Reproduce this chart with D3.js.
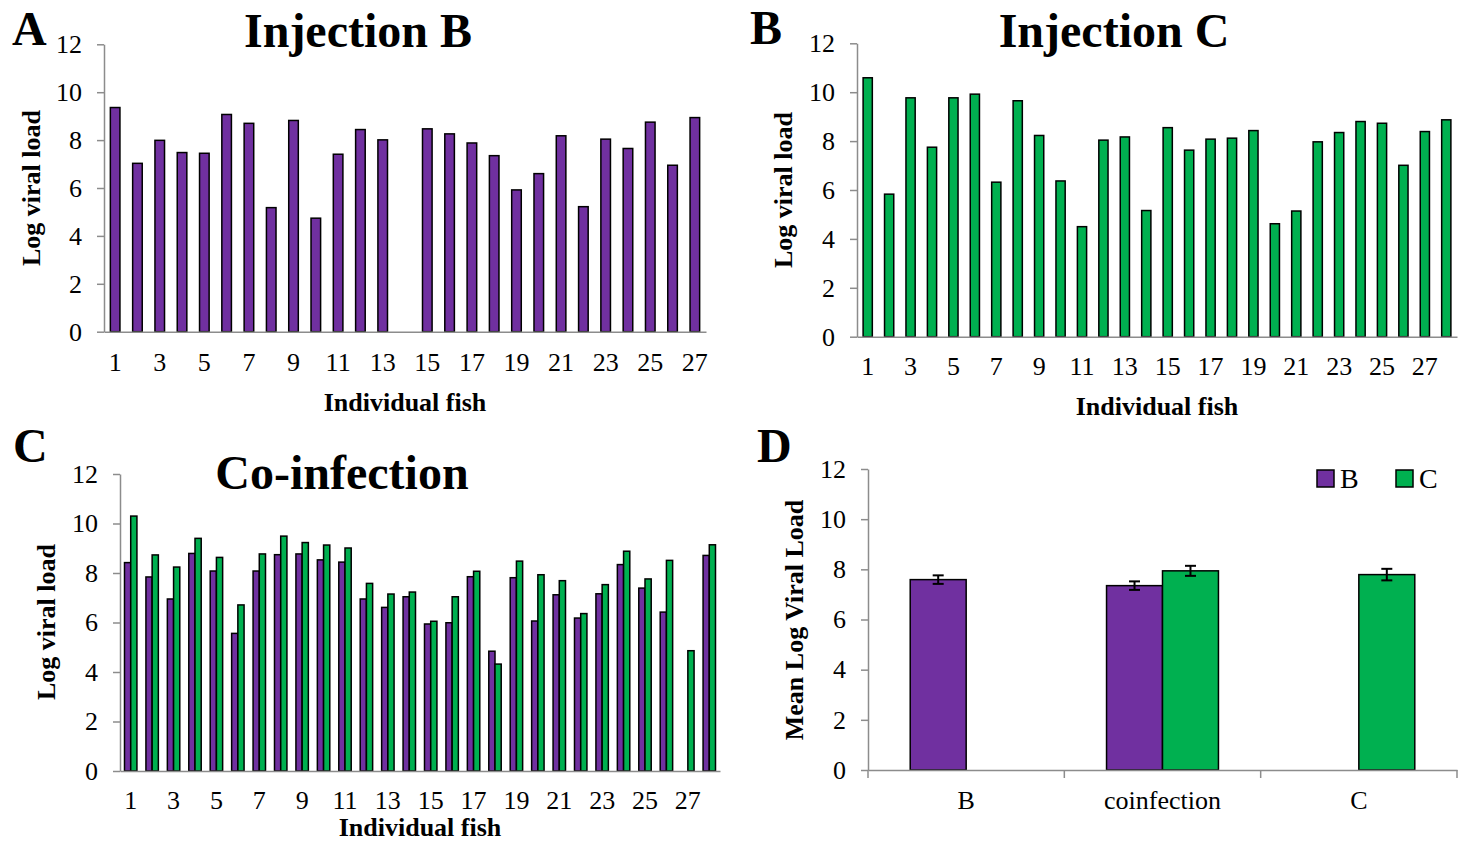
<!DOCTYPE html>
<html>
<head>
<meta charset="utf-8">
<script src="https://cdn.jsdelivr.net/npm/d3@7"></script>
<style>
  body { margin: 0; background: #fff; }
  text { font-family: "Liberation Serif", "Times New Roman", serif; }
</style>
</head>
<body>
<svg id="chart" width="1459" height="841"></svg>
<script>
// Individual fish numbers
const fishA = d3.range(1, 28);
const fishB = d3.range(1, 29);
const fishC = d3.range(1, 29);

// Log viral load per fish (null = no bar)
const injectionB = [9.36, 7.03, 7.99, 7.48, 7.45, 9.07, 8.70, 5.18, 8.82, 4.74, 7.41, 8.44, 8.01, null,
  8.47, 8.26, 7.88, 7.35, 5.92, 6.60, 8.18, 5.22, 8.04, 7.65, 8.75, 6.95, 8.94];
const injectionC = [10.59, 5.83, 9.77, 7.75, 9.77, 9.92, 6.32, 9.65, 8.23, 6.37, 4.50, 8.04, 8.17, 5.16,
  8.55, 7.63, 8.08, 8.12, 8.43, 4.62, 5.14, 7.97, 8.35, 8.80, 8.73, 7.01, 8.39, 8.87];
const coinfB = [8.42, 7.84, 6.95, 8.79, 8.08, 5.56, 8.08, 8.74, 8.77, 8.53, 8.44, 6.95, 6.61, 7.04,
  5.94, 5.99, 7.85, 4.84, 7.81, 6.06, 7.12, 6.18, 7.16, 8.34, 7.39, 6.42, null, 8.71];
const coinfC = [10.30, 8.73, 8.24, 9.40, 8.63, 6.71, 8.77, 9.49, 9.23, 9.13, 9.01, 7.58, 7.15, 7.23,
  6.05, 7.04, 8.07, 4.32, 8.48, 7.93, 7.69, 6.36, 7.53, 8.88, 7.76, 8.51, 4.86, 9.14];

// Panel D: means and standard errors
const groups = ["B", "coinfection", "C"];
const meanB = [7.59, 7.35, null];
const meanC = [null, 7.94, 7.79];
const errB = [0.17, 0.17, null];
const errC = [null, 0.20, 0.23];

const yTicks = [0, 2, 4, 6, 8, 10, 12];

const purple = "#7030a0";
const green = "#00b050";
const axisColor = "#8c8c8c";

const svg = d3.select("#chart");

function yAxis(g, y, left) {
  g.append("g")
    .attr("transform", `translate(${left},0)`)
    .call(d3.axisLeft(y).tickValues(yTicks).tickSize(7).tickSizeOuter(0).tickPadding(15))
    .call(s => styleAxis(s));
}

function styleAxis(s) {
  s.attr("color", axisColor)
    .attr("font-size", 26)
    .attr("font-family", null);
  s.selectAll("path, line").attr("stroke-width", 1.5);
  s.selectAll("text").attr("fill", "#000");
}

function panelText(g, letter, lx, ly, title, tx, ty) {
  g.append("text").attr("x", lx).attr("y", ly)
    .attr("font-size", 48).attr("font-weight", "bold").text(letter);
  if (title) {
    g.append("text").attr("x", tx).attr("y", ty).attr("text-anchor", "middle")
      .attr("font-size", 48).attr("font-weight", "bold").text(title);
  }
}

function yTitle(g, text, x, y) {
  g.append("text")
    .attr("transform", `translate(${x},${y}) rotate(-90)`)
    .attr("text-anchor", "middle")
    .attr("dominant-baseline", "middle")
    .attr("font-size", 26).attr("font-weight", "bold")
    .text(text);
}

function xTitle(g, text, x, y) {
  g.append("text").attr("x", x).attr("y", y)
    .attr("text-anchor", "middle")
    .attr("font-size", 26).attr("font-weight", "bold")
    .text(text);
}

// Single-series bar panel (A and B)
function singlePanel(cfg) {
  const g = svg.append("g");
  const x = d3.scaleBand().domain(cfg.fish).range([cfg.left, cfg.right])
    .paddingInner(0.57).paddingOuter(0.285);
  const y = d3.scaleLinear().domain([0, 12]).range([cfg.bottom, cfg.top]);

  g.selectAll("rect")
    .data(cfg.fish.map((f, i) => ({ f, v: cfg.values[i] })).filter(d => d.v != null))
    .join("rect")
    .attr("x", d => x(d.f))
    .attr("y", d => y(d.v))
    .attr("width", x.bandwidth())
    .attr("height", d => y(0) - y(d.v))
    .attr("fill", cfg.color)
    .attr("stroke", "#000")
    .attr("stroke-width", 1.5);

  yAxis(g, y, cfg.left);
  g.append("g")
    .attr("transform", `translate(0,${cfg.bottom})`)
    .call(d3.axisBottom(x).tickValues(cfg.fish.filter(f => f % 2 === 1)).tickSize(0).tickSizeOuter(0).tickPadding(cfg.pad))
    .call(s => styleAxis(s));
  return g;
}

// Panel A
const gA = singlePanel({ fish: fishA, values: injectionB, color: purple, left: 104, right: 706, top: 44.3, bottom: 331.7, pad: 21 });
panelText(gA, "A", 12, 45, "Injection B", 358, 47);
yTitle(gA, "Log viral load", 34, 188);
xTitle(gA, "Individual fish", 405, 411);

// Panel B
const gB = singlePanel({ fish: fishB, values: injectionC, color: green, left: 857, right: 1457, top: 43.3, bottom: 336.7, pad: 20 });
panelText(gB, "B", 750, 44, "Injection C", 1114, 47);
yTitle(gB, "Log viral load", 786, 190);
xTitle(gB, "Individual fish", 1157, 415);

// Panel C: grouped co-infection bars
(function () {
  const g = svg.append("g");
  const left = 120, right = 720, top = 474, bottom = 771;
  const x = d3.scaleBand().domain(fishC).range([left, right]).paddingInner(0.42).paddingOuter(0.21);
  const xs = d3.scaleBand().domain(["B", "C"]).range([0, x.bandwidth()]);
  const y = d3.scaleLinear().domain([0, 12]).range([bottom, top]);
  const rows = [];
  fishC.forEach((f, i) => {
    if (coinfB[i] != null) rows.push({ f, s: "B", v: coinfB[i] });
    if (coinfC[i] != null) rows.push({ f, s: "C", v: coinfC[i] });
  });
  g.selectAll("rect").data(rows).join("rect")
    .attr("x", d => x(d.f) + xs(d.s))
    .attr("y", d => y(d.v))
    .attr("width", xs.bandwidth())
    .attr("height", d => y(0) - y(d.v))
    .attr("fill", d => d.s === "B" ? purple : green)
    .attr("stroke", "#000")
    .attr("stroke-width", 1.5);

  yAxis(g, y, left);
  g.append("g")
    .attr("transform", `translate(0,${bottom})`)
    .call(d3.axisBottom(x).tickValues(fishC.filter(f => f % 2 === 1)).tickSize(0).tickSizeOuter(0).tickPadding(20))
    .call(s => styleAxis(s));

  panelText(g, "C", 13, 462, "Co-infection", 342, 489);
  yTitle(g, "Log viral load", 49, 622);
  xTitle(g, "Individual fish", 420, 836);
})();

// Panel D: means with error bars
(function () {
  const g = svg.append("g");
  const left = 868, right = 1457, top = 469, bottom = 770;
  const x = d3.scaleBand().domain(groups).range([left, right]).paddingInner(0.43).paddingOuter(0.215);
  const xs = d3.scaleBand().domain(["B", "C"]).range([0, x.bandwidth()]);
  const y = d3.scaleLinear().domain([0, 12]).range([bottom, top]);
  const rows = [];
  groups.forEach((grp, i) => {
    if (meanB[i] != null) rows.push({ grp, s: "B", v: meanB[i], e: errB[i] });
    if (meanC[i] != null) rows.push({ grp, s: "C", v: meanC[i], e: errC[i] });
  });
  const cx = d => x(d.grp) + xs(d.s) + xs.bandwidth() / 2;

  g.selectAll("rect.bar").data(rows).join("rect")
    .attr("class", "bar")
    .attr("x", d => x(d.grp) + xs(d.s))
    .attr("y", d => y(d.v))
    .attr("width", xs.bandwidth())
    .attr("height", d => y(0) - y(d.v))
    .attr("fill", d => d.s === "B" ? purple : green)
    .attr("stroke", "#000")
    .attr("stroke-width", 1.5);

  // error bars
  const eb = g.selectAll("g.err").data(rows).join("g").attr("class", "err")
    .attr("stroke", "#000").attr("stroke-width", 2);
  eb.append("line").attr("x1", cx).attr("x2", cx)
    .attr("y1", d => y(d.v - d.e)).attr("y2", d => y(d.v + d.e));
  eb.append("line").attr("x1", d => cx(d) - 5.5).attr("x2", d => cx(d) + 5.5)
    .attr("y1", d => y(d.v + d.e)).attr("y2", d => y(d.v + d.e));
  eb.append("line").attr("x1", d => cx(d) - 5.5).attr("x2", d => cx(d) + 5.5)
    .attr("y1", d => y(d.v - d.e)).attr("y2", d => y(d.v - d.e));

  yAxis(g, y, left);
  const xAx = g.append("g")
    .attr("transform", `translate(0,${bottom})`)
    .call(d3.axisBottom(x).tickSize(0).tickSizeOuter(0).tickPadding(21))
    .call(s => styleAxis(s));
  // category boundary ticks
  const gap = (x.step() - x.bandwidth()) / 2;
  const bounds = groups.map(grp => x(grp) - gap).concat([right]);
  xAx.selectAll("line.bound").data(bounds).join("line")
    .attr("class", "bound")
    .attr("x1", d => d).attr("x2", d => d)
    .attr("y1", 0).attr("y2", 8)
    .attr("stroke", axisColor).attr("stroke-width", 1.5);

  // legend
  const legend = g.append("g").attr("font-size", 28);
  [["B", purple, 1317], ["C", green, 1396]].forEach(([label, color, lx]) => {
    legend.append("rect").attr("x", lx).attr("y", 470).attr("width", 17).attr("height", 17)
      .attr("fill", color).attr("stroke", "#000").attr("stroke-width", 1.5);
    legend.append("text").attr("x", lx + 23).attr("y", 488).text(label);
  });

  panelText(g, "D", 757, 462, null);
  yTitle(g, "Mean Log  Viral Load", 797, 620);
})();
</script>
</body>
</html>
